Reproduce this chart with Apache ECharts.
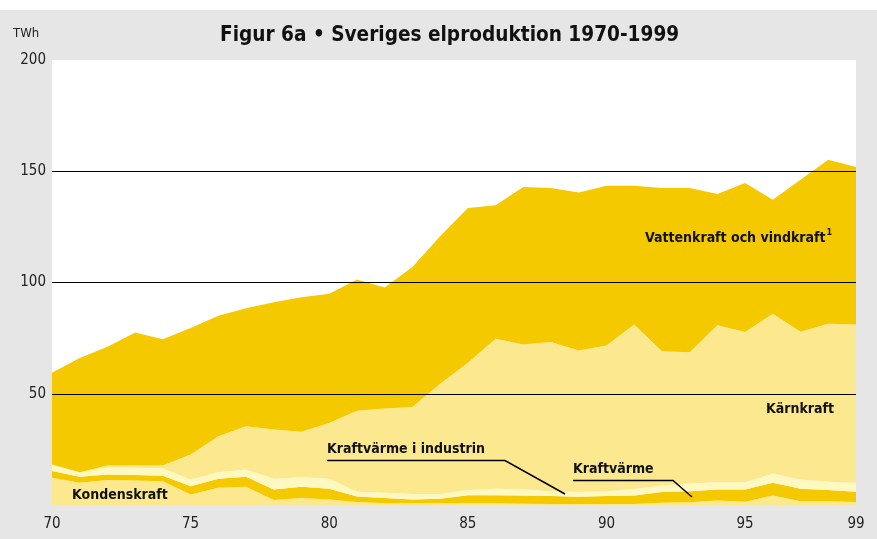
<!DOCTYPE html>
<html>
<head>
<meta charset="utf-8">
<style>
  html, body { margin: 0; padding: 0; background: #fff; }
  #main { width: 877px; height: 539px; }
</style>
<script src="https://cdn.jsdelivr.net/npm/echarts@6/dist/echarts.min.js"></script>
</head>
<body>
<div id="main"></div>
<script>
// år 1970-1999, TWh
var years = ['70','71','72','73','74','75','76','77','78','79','80','81','82','83','84',
             '85','86','87','88','89','90','91','92','93','94','95','96','97','98','99'];
var kondenskraft = [12.3,10.0,11.2,11.0,10.7,4.7,7.7,8.2,2.2,3.2,2.5,1.3,0.8,0.8,0.8,
                    0.8,0.8,0.6,0.5,0.5,0.5,0.5,1.0,1.2,2.0,1.5,4.3,1.7,1.7,1.3];
var kraftvarme = [3.0,2.7,2.5,2.5,2.5,3.7,4.1,4.5,4.8,5.0,4.8,2.5,2.4,1.7,2.0,
                  3.6,3.6,3.7,3.5,3.2,3.5,3.8,4.8,5.0,5.0,5.5,5.7,5.6,5.0,4.6];
var industri = [2.9,2.0,3.1,3.2,3.3,3.1,2.9,3.2,4.8,4.3,4.5,2.2,2.3,2.5,2.2,
                2.3,2.9,2.7,2.2,2.1,2.2,2.9,3.0,3.5,3.2,3.2,4.2,4.2,3.7,4.1];
var karnkraft = [0,0,0.9,1.0,1.2,11.2,16.2,19.5,22.1,20.4,25.1,36.4,37.9,39.1,49.5,
                 57.2,67.4,65.1,67.1,63.6,65.5,73.9,60.3,59.0,70.6,67.6,71.7,66.4,71.1,71.1];
var vattenkraft = [41.2,51.4,53.4,59.8,56.8,56.9,54.2,53.0,57.2,60.5,58.0,59.0,54.4,62.9,66.3,
                   69.6,60.0,70.8,69.2,71.1,71.8,62.4,73.4,73.8,59.0,66.9,51.3,68.3,73.7,70.8];
var xLabels = ['70','75','80','85','90','95','99'];

var dark = '#f5c900', light = '#fce98f', pale = '#fff8c0';
var font = '"DejaVu Sans Condensed", sans-serif';

function area(name, data, color) {
    return {
        name: name,
        type: 'line',
        stack: 'total',
        data: data,
        symbol: 'none',
        lineStyle: { width: 0 },
        areaStyle: { color: color, opacity: 1 },
        silent: true
    };
}

function label(text, x, y) {
    return { type: 'text', z: 100, left: x, top: y,
             style: { text: text, fontSize: 14, fontWeight: 'bold', fontFamily: font, fill: '#111' } };
}

var myChart = echarts.init(document.getElementById('main'));
var option = {
    backgroundColor: '#e6e6e6',
    animation: false,
    textStyle: { fontFamily: font },
    title: {
        text: 'Figur 6a • Sveriges elproduktion 1970-1999',
        left: 215,
        top: 20,
        textStyle: { fontFamily: font, fontSize: 20.6, fontWeight: 'bold', color: '#111' }
    },
    grid: {
        left: 52,
        right: 21,
        top: 60,
        bottom: 34,
        show: true,
        backgroundColor: '#fff',
        borderWidth: 0
    },
    xAxis: {
        type: 'category',
        boundaryGap: false,
        data: years,
        axisLine: { show: false },
        axisTick: { show: false },
        axisLabel: {
            interval: 0,
            margin: 12,
            color: '#222',
            fontSize: 15,
            fontFamily: font,
            formatter: function (v) { return xLabels.indexOf(v) >= 0 ? v : ''; }
        }
    },
    yAxis: {
        type: 'value',
        min: 0,
        max: 200,
        interval: 50,
        z: 5,
        axisLine: { show: false },
        axisTick: { show: false },
        axisLabel: {
            margin: 6,
            color: '#222',
            fontSize: 15,
            fontFamily: font,
            formatter: function (v) { return v === 0 ? '' : v; }
        },
        splitLine: {
            show: true,
            showMinLine: false,
            showMaxLine: false,
            lineStyle: { color: '#000', width: 1 }
        }
    },
    series: [
        area('Kondenskraft', kondenskraft, light),
        area('Kraftvärme', kraftvarme, dark),
        area('Kraftvärme i industrin', industri, pale),
        area('Kärnkraft', karnkraft, light),
        area('Vattenkraft och vindkraft', vattenkraft, dark)
    ],
    graphic: [
        { type: 'rect', left: 0, top: 0, shape: { width: 877, height: 10 }, style: { fill: '#fff' } },
        { type: 'text', left: 13, top: 27, style: { text: 'TWh', fontSize: 13, fontFamily: font, fill: '#222' } },
        { type: 'text', z: 100, left: 645, top: 228, style: {
            text: '{a|Vattenkraft och vindkraft}{s|1}',
            rich: {
                a: { fontSize: 14, fontWeight: 'bold', fontFamily: font, fill: '#111', verticalAlign: 'bottom' },
                s: { fontSize: 9, fontWeight: 'bold', fontFamily: font, fill: '#111', verticalAlign: 'top', padding: [0, 0, 8, 1] }
            }
        } },
        label('Kärnkraft', 766, 402),
        label('Kraftvärme i industrin', 327, 442),
        { type: 'polyline', z: 100, shape: { points: [[327, 460.5], [505, 460.5], [565, 494]] }, style: { stroke: '#000', lineWidth: 1.5, fill: null } },
        label('Kraftvärme', 573, 462),
        { type: 'polyline', z: 100, shape: { points: [[573, 480.5], [673, 480.5], [692, 497]] }, style: { stroke: '#000', lineWidth: 1.5, fill: null } },
        label('Kondenskraft', 72, 488)
    ]
};
myChart.setOption(option);
</script>
</body>
</html>
